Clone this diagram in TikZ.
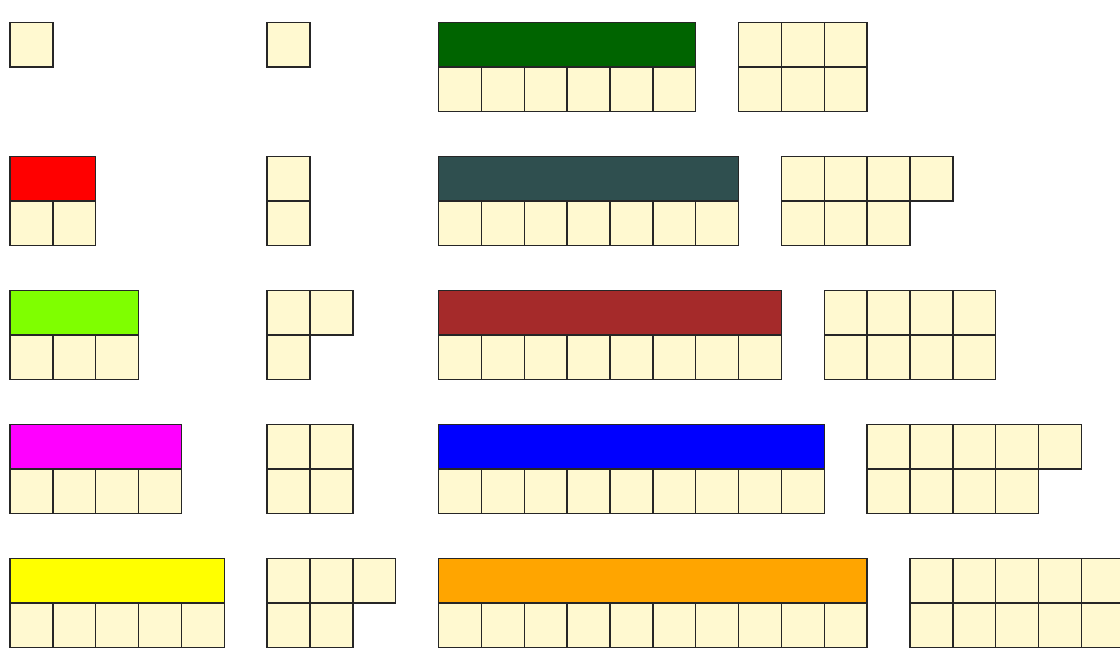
\documentclass[tikz,border=0pt]{standalone}
\definecolor{cream}{RGB}{255,249,208}
\definecolor{cdarkgreen}{HTML}{006400}
\definecolor{cslate}{HTML}{2F4F4F}
\definecolor{cbrown}{HTML}{A52A2A}
\definecolor{corange}{HTML}{FFA500}
\definecolor{cchart}{HTML}{7FFF00}
\definecolor{cred}{HTML}{FF0000}
\definecolor{cblue}{HTML}{0000FF}
\definecolor{cmagenta}{HTML}{FF00FF}
\definecolor{cyellow}{HTML}{FFFF00}
\tikzset{
  cell/.style={draw=black!85, fill=cream, line width=1.1pt},
  bar/.style={draw=black!85, line width=1.1pt},
}
\begin{document}
\begin{tikzpicture}[x=32.143pt,y=-33.5pt]
\useasboundingbox (-0.2333,-0.4993) rectangle (25.9,14.007);
\clip (-0.2333,-0.4993) rectangle (25.9,14.007);
% column A
\draw[cell] (0,0) rectangle (1,1);
\foreach \k/\col in {1/cred,2/cchart,3/cmagenta,4/cyellow}{
  \pgfmathtruncatemacro{\m}{\k+1}
  \pgfmathtruncatemacro{\y}{3*\k}
  \draw[bar,fill=\col] (0,\y) rectangle (\m,\y+1);
  \foreach \i in {1,...,\m}{
    \draw[cell] (\i-1,\y+1) rectangle (\i,\y+2);
  }
}
% column B
\foreach \cx/\cy in {6/0, 6/3,6/4, 6/6,7/6,6/7, 6/9,7/9,6/10,7/10, 6/12,7/12,8/12,6/13,7/13}{
  \draw[cell] (\cx,\cy) rectangle (\cx+1,\cy+1);
}
% columns C and D
\foreach \k/\col in {0/cdarkgreen,1/cslate,2/cbrown,3/cblue,4/corange}{
  \pgfmathtruncatemacro{\n}{6+\k}
  \pgfmathtruncatemacro{\y}{3*\k}
  \pgfmathtruncatemacro{\top}{ceil(\n/2)}
  \pgfmathtruncatemacro{\bot}{floor(\n/2)}
  \pgfmathtruncatemacro{\dx}{17+\k}
  \draw[bar,fill=\col] (10,\y) rectangle (10+\n,\y+1);
  \foreach \i in {1,...,\n}{
    \draw[cell] (9+\i,\y+1) rectangle (10+\i,\y+2);
  }
  \foreach \i in {1,...,\top}{
    \draw[cell] (\dx+\i-1,\y) rectangle (\dx+\i,\y+1);
  }
  \foreach \i in {1,...,\bot}{
    \draw[cell] (\dx+\i-1,\y+1) rectangle (\dx+\i,\y+2);
  }
}
\end{tikzpicture}
\end{document}
